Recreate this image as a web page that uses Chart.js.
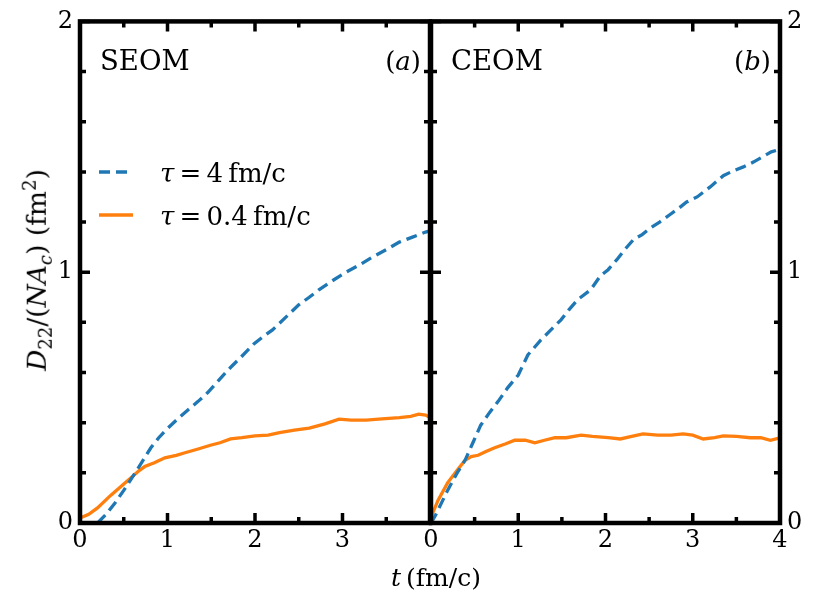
<!DOCTYPE html>
<html>
<head>
<meta charset="utf-8">
<script src="https://cdn.jsdelivr.net/npm/chart.js@4.4.1/dist/chart.umd.min.js"></script>
<style>
  html, body { margin: 0; padding: 0; background: #fff; }
  #wrap { position: relative; width: 819px; height: 592px; overflow: hidden; font-family: "DejaVu Serif", serif; color: #000; }
  #wrap canvas { position: absolute; top: 0; }
  #cLeft { left: 0; }
  #cRight { left: 380px; }
  .title { position: absolute; font-size: 25px; white-space: nowrap; line-height: 1; }
  .title sub, .title sup { font-size: 0.68em; line-height: 0; }
  #xtitle { left: 436px; top: 565px; transform: translateX(-50%); }
  #ytitle { left: 37px; top: 270px; font-size: 26.5px; transform: translate(-50%, -50%) rotate(-90deg); }
</style>
</head>
<body>
<div id="wrap">
  <canvas id="cLeft" width="433" height="592"></canvas>
  <canvas id="cRight" width="439" height="592"></canvas>
  <div class="title" id="xtitle"><i>t</i>&#8201;(fm/c)</div>
  <div class="title" id="ytitle"><i>D</i><sub>22</sub>/(<i>NA</i><sub><i>c</i></sub>) (fm<sup>2</sup>)</div>
</div>
<script>
// SEOM, tau = 4 fm/c
const tSeomLong = [0.2, 0.3, 0.4, 0.5, 0.63, 0.72, 0.81, 0.9, 0.98, 1.1, 1.23, 1.35, 1.46, 1.6, 1.72, 1.85, 1.99, 2.1, 2.2, 2.35, 2.5, 2.62, 2.73, 2.88, 3.04, 3.2, 3.34, 3.5, 3.65, 3.8, 3.95, 4.0];
const dSeomLong = [0.0, 0.035, 0.08, 0.13, 0.2, 0.25, 0.3, 0.34, 0.37, 0.41, 0.45, 0.485, 0.52, 0.575, 0.62, 0.665, 0.715, 0.745, 0.77, 0.82, 0.87, 0.9, 0.93, 0.965, 1.0, 1.03, 1.06, 1.09, 1.12, 1.14, 1.16, 1.165];
// SEOM, tau = 0.4 fm/c
const tSeomShort = [0, 0.1, 0.2, 0.35, 0.55, 0.68, 0.74, 0.85, 0.97, 1.1, 1.2, 1.35, 1.49, 1.6, 1.72, 1.85, 2.0, 2.15, 2.28, 2.45, 2.62, 2.8, 2.96, 3.1, 3.27, 3.45, 3.65, 3.78, 3.87, 3.95, 4.0];
const dSeomShort = [0.02, 0.035, 0.06, 0.11, 0.17, 0.21, 0.225, 0.24, 0.26, 0.27, 0.28, 0.295, 0.31, 0.32, 0.335, 0.34, 0.347, 0.35, 0.36, 0.37, 0.378, 0.395, 0.414, 0.41, 0.41, 0.415, 0.42, 0.425, 0.434, 0.43, 0.42];
// CEOM, tau = 4 fm/c
const tCeomLong = [0, 0.05, 0.19, 0.3, 0.39, 0.48, 0.57, 0.67, 0.77, 0.88, 1.0, 1.11, 1.26, 1.36, 1.49, 1.58, 1.68, 1.83, 1.94, 2.03, 2.13, 2.22, 2.32, 2.42, 2.51, 2.62, 2.74, 2.84, 2.93, 3.05, 3.2, 3.35, 3.47, 3.58, 3.7, 3.8, 3.9, 4.0];
const dCeomLong = [0, 0.03, 0.13, 0.2, 0.25, 0.32, 0.39, 0.44, 0.485, 0.54, 0.59, 0.67, 0.73, 0.765, 0.81, 0.85, 0.89, 0.93, 0.985, 1.01, 1.05, 1.09, 1.13, 1.15, 1.175, 1.2, 1.23, 1.255, 1.28, 1.3, 1.34, 1.385, 1.405, 1.42, 1.44, 1.46, 1.48, 1.49];
// CEOM, tau = 0.4 fm/c
const tCeomShort = [0, 0.02, 0.08, 0.19, 0.3, 0.39, 0.46, 0.54, 0.63, 0.73, 0.85, 0.96, 1.08, 1.19, 1.3, 1.42, 1.55, 1.72, 1.85, 2.03, 2.17, 2.3, 2.43, 2.6, 2.75, 2.89, 3.0, 3.12, 3.25, 3.35, 3.5, 3.66, 3.78, 3.89, 4.0];
const dCeomShort = [0.02, 0.04, 0.09, 0.16, 0.21, 0.25, 0.265, 0.27, 0.285, 0.3, 0.315, 0.33, 0.33, 0.32, 0.33, 0.34, 0.34, 0.35, 0.345, 0.34, 0.335, 0.345, 0.355, 0.35, 0.35, 0.355, 0.35, 0.335, 0.34, 0.347, 0.345, 0.34, 0.34, 0.33, 0.34];

const seriesLabels = ["4", "0.4"];   // tau values, fm/c
const xTickLabels = ["0", "1", "2", "3", "4"];
const yTickLabels = ["0", "1", "2"];

const BLUE = "#1f77b4";
const ORANGE = "#ff7f0e";
const SERIF = "DejaVu Serif";

function pts(ts, ds) {
    return ts.map((t, i) => ({ x: t, y: ds[i] }));
}

function makeDatasets(tLong, dLong, tShort, dShort) {
    return [
        { data: pts(tLong, dLong), borderColor: BLUE, borderWidth: 3.3, borderDash: [11, 6], pointRadius: 0, tension: 0 },
        { data: pts(tShort, dShort), borderColor: ORANGE, borderWidth: 3.3, pointRadius: 0, tension: 0 }
    ];
}

// draws a row of text pieces with their own fonts, left to right
function drawRuns(ctx, x, y, runs, align) {
    let total = 0;
    runs.forEach(r => { ctx.font = r.font; total += ctx.measureText(r.text).width; });
    let cx = align === "right" ? x - total : x;
    runs.forEach(r => {
        ctx.font = r.font;
        ctx.fillText(r.text, cx, y);
        cx += ctx.measureText(r.text).width;
    });
}

// box frame plus inward ticks on all four sides
const frameTicks = {
    id: "frameTicks",
    afterDatasetsDraw(chart) {
        const { ctx, chartArea: a, scales: { x, y } } = chart;
        ctx.save();
        ctx.strokeStyle = "#000";
        ctx.lineWidth = 3.5;
        ctx.beginPath();
        x.ticks.forEach(t => {
            const px = x.getPixelForValue(t.value);
            const len = Number.isInteger(t.value) ? 10 : 6;
            ctx.moveTo(px, a.bottom); ctx.lineTo(px, a.bottom - len);
            ctx.moveTo(px, a.top); ctx.lineTo(px, a.top + len);
        });
        y.ticks.forEach(t => {
            const py = y.getPixelForValue(t.value);
            const len = Math.abs(t.value - Math.round(t.value)) < 1e-6 ? 10 : 6;
            ctx.moveTo(a.left, py); ctx.lineTo(a.left + len, py);
            ctx.moveTo(a.right, py); ctx.lineTo(a.right - len, py);
        });
        ctx.stroke();
        ctx.lineWidth = 4.5;
        ctx.strokeRect(a.left, a.top, a.right - a.left, a.bottom - a.top);
        ctx.restore();
    }
};

// panel name, panel letter and (left panel only) the legend
const panelText = {
    id: "panelText",
    afterDraw(chart, args, opts) {
        const { ctx, chartArea: a } = chart;
        const big = `26px "${SERIF}"`;
        const bigIt = `italic 26px "${SERIF}"`;
        ctx.save();
        ctx.fillStyle = "#000";
        ctx.textBaseline = "alphabetic";
        ctx.font = `27.5px "${SERIF}"`;
        ctx.fillText(opts.name, a.left + 20, 70);
        drawRuns(ctx, a.right - 9, 70, [
            { text: "(", font: big },
            { text: opts.letter, font: bigIt },
            { text: ")", font: big }
        ], "right");

        if (opts.legend) {
            const rows = [182, 225];
            chart.data.datasets.forEach((ds, i) => {
                const yy = rows[i] - 10;
                ctx.strokeStyle = ds.borderColor;
                ctx.lineWidth = ds.borderWidth;
                ctx.setLineDash(ds.borderDash || []);
                ctx.beginPath();
                ctx.moveTo(a.left + 19, yy);
                ctx.lineTo(a.left + 53, yy);
                ctx.stroke();
                ctx.setLineDash([]);
                drawRuns(ctx, a.left + 80, rows[i], [
                    { text: "\u03C4", font: bigIt },
                    { text: "\u2009=\u2009" + seriesLabels[i] + "\u2009fm/c", font: big }
                ]);
            });
        }
        ctx.restore();
    }
};

function makeChart(id, datasets, side, showLastX, padding, text) {
    const tickFont = { family: SERIF, size: 24 };
    return new Chart(document.getElementById(id), {
        type: "line",
        data: { datasets },
        options: {
            responsive: false,
            animation: false,
            events: [],
            layout: { padding },
            plugins: { legend: { display: false }, tooltip: { enabled: false }, panelText: text },
            scales: {
                x: {
                    type: "linear", min: 0, max: 4,
                    border: { display: false },
                    grid: { display: false, drawTicks: false },
                    ticks: {
                        stepSize: 0.5, autoSkip: false, maxRotation: 0, color: "#000", font: tickFont, padding: 3,
                        callback: v => (Number.isInteger(v) && (showLastX || v < 4)) ? xTickLabels[v] : ""
                    },
                    afterFit: s => { s.height = 69; }
                },
                y: {
                    type: "linear", min: 0, max: 2, position: side,
                    border: { display: false },
                    grid: { display: false, drawTicks: false },
                    ticks: {
                        stepSize: 0.2, autoSkip: false, color: "#000", font: tickFont, padding: 7,
                        callback: v => Math.abs(v - Math.round(v)) < 1e-6 ? yTickLabels[Math.round(v)] : ""
                    },
                    afterFit: s => { s.width = side === "left" ? 80 : 39; }
                }
            }
        },
        plugins: [frameTicks, panelText]
    });
}

makeChart("cLeft", makeDatasets(tSeomLong, dSeomLong, tSeomShort, dSeomShort), "left", false,
    { top: 16, right: 2, left: 0, bottom: 0 }, { name: "SEOM", letter: "a", legend: true });
makeChart("cRight", makeDatasets(tCeomLong, dCeomLong, tCeomShort, dCeomShort), "right", true,
    { top: 16, right: 0, left: 51, bottom: 0 }, { name: "CEOM", letter: "b", legend: false });
</script>
</body>
</html>
